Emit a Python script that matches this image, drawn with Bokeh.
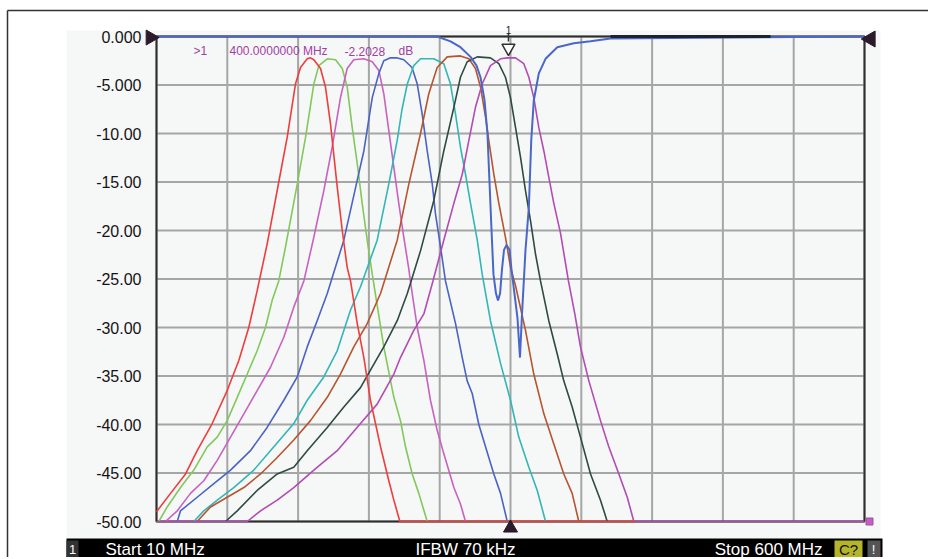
import math
from bokeh.plotting import figure
from bokeh.models import Range1d
from bokeh.core.properties import value
from bokeh.embed import file_html
from bokeh.resources import INLINE

# ---------------- data (frequency in MHz, level in dB) ----------------
X_START, X_STOP, N_XDIV = 10, 600, 10
Y_BOTTOM, Y_TOP = -50, 0
y_ticks = [-50, -45, -40, -35, -30, -25, -20, -15, -10, -5, 0]
y_tick_labels = ["-50.00", "-45.00", "-40.00", "-35.00", "-30.00", "-25.00",
                 "-20.00", "-15.00", "-10.00", "-5.000", "0.000"]

red_f = [10.0, 21.7, 34.2, 43.9, 56.4, 68.9, 78.6, 86.9, 93.9, 102.2, 111.9, 118.9, 125.8, 130.0, 135.6, 138.3,
         141.1, 146.7, 150.8, 155.0, 160.6, 164.8, 168.9, 171.7, 177.3, 182.8, 188.3, 196.7, 203.6, 207.8, 212.8, 409.2]
red_db = [-49.0, -47.1, -45.1, -42.7, -39.9, -36.5, -33.4, -30.0, -26.2, -21.4, -15.0, -10.4, -4.9, -3.2, -2.3, -2.2,
          -2.4, -3.3, -5.2, -9.0, -15.5, -20.0, -23.8, -25.2, -29.6, -33.1, -37.5, -42.3, -45.8, -47.8, -50.0, -50.0]

green_f = [11.9, 18.9, 30.0, 41.1, 52.3, 60.6, 68.9, 77.3, 85.6, 93.9, 100.8, 106.4, 111.9, 117.5, 127.3, 134.2,
           141.1, 145.3, 152.3, 159.2, 164.8, 168.9, 173.1, 177.3, 181.4, 185.6, 189.8, 191.7, 199.4, 207.8, 213.3,
           217.5, 223.1, 228.6, 235.6]
green_db = [-50.0, -48.5, -46.5, -44.7, -42.3, -41.3, -39.6, -37.2, -34.8, -32.4, -30.0, -27.2, -25.2, -21.7, -15.2,
            -10.4, -4.9, -3.0, -2.3, -2.4, -3.3, -5.2, -9.4, -13.1, -17.2, -21.0, -24.5, -26.0, -32.0, -37.2, -39.6,
            -42.3, -45.1, -47.1, -50.0]

mag_f = [17.5, 27.3, 38.3, 49.4, 60.6, 71.7, 82.8, 93.9, 105.0, 116.1, 124.4, 132.8, 141.1, 149.4, 156.4, 163.3,
         168.9, 174.4, 182.8, 189.8, 195.3, 199.4, 203.6, 207.8, 211.9, 216.1, 220.3, 222.5, 227.3, 232.8, 238.3,
         243.9, 249.4, 257.8, 263.3, 267.5]
mag_db = [-50.0, -48.9, -47.1, -45.8, -43.7, -41.3, -38.9, -36.5, -34.1, -31.0, -27.9, -25.2, -20.7, -15.9, -11.4,
          -6.3, -3.3, -2.4, -2.3, -2.6, -3.5, -5.9, -9.7, -13.5, -17.2, -20.7, -24.0, -26.0, -30.0, -33.4, -37.5,
          -40.6, -43.0, -46.5, -48.2, -50.0]

blue_f = [27.3, 30.0, 43.9, 57.8, 71.7, 88.3, 102.2, 116.1, 127.3, 135.6, 143.9, 152.3, 166.1, 177.3, 182.8, 189.8,
          195.3, 199.4, 205.0, 210.0, 216.1, 222.9, 227.3, 231.4, 235.6, 239.8, 242.5, 246.7, 250.8, 259.2, 264.8,
          268.9, 273.1, 278.6, 284.2, 291.1, 296.7, 302.3]
blue_db = [-50.0, -48.9, -47.5, -46.1, -44.7, -42.7, -40.3, -37.5, -35.1, -32.0, -29.3, -26.5, -21.0, -14.8, -11.8,
           -6.3, -3.8, -2.5, -2.2, -2.2, -2.4, -3.2, -4.9, -8.0, -11.8, -15.2, -18.3, -21.7, -25.2, -29.6, -33.1,
           -35.5, -36.8, -40.0, -42.3, -45.1, -47.1, -50.0]

cyan_f = [41.1, 49.4, 60.6, 74.4, 91.1, 107.8, 124.4, 135.6, 149.4, 160.6, 171.7, 180.0, 193.9, 203.6, 210.6, 214.6,
          219.0, 224.4, 230.0, 241.1, 249.4, 255.0, 259.2, 263.3, 267.5, 271.7, 277.3, 281.4, 288.3, 296.7, 305.0,
          311.9, 320.3, 327.3, 334.2]
cyan_db = [-50.0, -48.9, -47.8, -46.5, -44.7, -42.3, -39.9, -37.5, -35.1, -32.4, -28.2, -25.8, -21.0, -15.2, -10.7,
           -7.5, -4.9, -3.0, -2.3, -2.3, -2.8, -4.9, -8.0, -11.4, -14.2, -17.2, -21.0, -24.5, -29.3, -33.7, -37.5,
           -41.3, -44.4, -46.8, -50.0]

brown_f = [43.9, 55.0, 68.9, 82.8, 96.7, 110.6, 124.4, 138.3, 152.3, 163.3, 174.4, 185.6, 196.7, 210.6, 220.3, 230.0,
           236.9, 243.9, 252.3, 263.3, 270.3, 275.8, 280.0, 284.2, 286.9, 291.1, 295.3, 300.8, 305.0, 309.2, 317.5,
           324.4, 332.8, 341.1, 349.4, 356.4, 361.9]
brown_db = [-50.0, -48.5, -47.5, -46.5, -45.1, -43.4, -41.6, -39.6, -37.2, -34.8, -32.0, -29.6, -26.5, -21.0, -15.2,
            -10.0, -5.9, -3.2, -2.1, -2.0, -2.3, -3.3, -5.2, -8.3, -10.7, -14.2, -17.2, -20.7, -23.8, -25.7, -30.3,
            -34.8, -38.9, -42.0, -45.1, -47.1, -50.0]

dark_f = [67.5, 77.3, 93.9, 110.6, 124.4, 135.6, 152.3, 166.1, 180.0, 188.3, 199.4, 210.6, 219.0, 230.0, 241.1, 249.4,
          257.8, 263.3, 268.9, 277.3, 288.3, 295.3, 300.8, 305.0, 309.2, 313.3, 317.5, 321.7, 325.8, 330.0, 336.9,
          343.9, 349.4, 356.4, 363.3, 371.7, 380.0, 385.6]
dark_db = [-50.0, -48.9, -46.8, -45.1, -44.4, -42.7, -40.3, -38.2, -36.2, -34.4, -32.0, -29.3, -26.5, -22.1, -16.9,
           -11.8, -7.3, -4.2, -2.6, -2.1, -2.2, -2.8, -4.2, -6.3, -9.4, -12.4, -15.9, -19.0, -22.4, -25.2, -29.3,
           -32.7, -35.5, -38.2, -41.3, -45.1, -47.8, -50.0]

purple_f = [10.0, 85.6, 96.7, 110.6, 124.4, 141.1, 160.6, 180.0, 193.9, 207.8, 213.3, 224.4, 232.8, 240.4, 249.4,
            257.8, 264.8, 270.3, 275.8, 281.4, 288.3, 296.7, 302.5, 309.2, 316.1, 320.3, 324.4, 328.6, 332.8, 336.9,
            341.1, 346.7, 353.3, 358.6, 363.3, 370.3, 380.0, 386.9, 395.3, 402.3, 407.8, 600.0]
purple_db = [-50.0, -50.0, -48.9, -47.8, -46.5, -44.7, -42.7, -39.9, -37.9, -34.8, -33.1, -30.3, -28.6, -25.2, -21.0,
             -17.2, -14.2, -10.7, -7.3, -4.9, -3.0, -2.3, -2.2, -2.2, -2.8, -4.2, -6.3, -9.4, -11.8, -14.5, -17.2,
             -20.3, -25.2, -28.6, -32.0, -35.5, -39.6, -42.3, -45.1, -47.5, -50.0, -50.0]

notch_f = [10.0, 243.9, 255.0, 263.3, 271.7, 276.7, 280.0, 283.3, 285.8, 287.5, 289.2, 290.8, 292.9, 294.6, 296.3,
           297.9, 299.6, 301.7, 304.2, 305.8, 308.3, 310.8, 312.9, 314.6, 316.1, 317.5, 320.3, 322.3, 324.4, 328.6,
           334.2, 344.0, 357.8, 371.7, 388.3, 600.0]
notch_db = [0.0, 0.0, -0.5, -1.1, -2.1, -3.0, -4.2, -6.5, -10.0, -15.0, -20.0, -24.5, -26.5, -27.2, -26.5, -24.0,
            -22.0, -21.5, -22.0, -24.0, -26.5, -29.0, -33.1, -28.6, -25.2, -22.0, -17.6, -10.7, -6.6, -3.8, -2.3,
            -1.1, -0.7, -0.5, -0.2, 0.0]

thru_f = [388.3, 521.7]
thru_db = [0.0, 0.0]

marker_f = 303.3
marker_text = [">1", "400.0000000 MHz", "-2.2028", "dB"]
status_text = ["Start 10 MHz", "IFBW 70 kHz", "Stop 600 MHz"]

# ---------------- page pixel -> data helpers (for decorations only) ----------------
W, H = 928, 557
def fx(px):
    return X_START + (px - 156) * (X_STOP - X_START) / 708.0

def fy(py):
    return -(py - 36) * (Y_TOP - Y_BOTTOM) / 485.0

BG = "#f6f7f7"
FONT = "Liberation Sans"
FRAME = "#333333"

p = figure(width=W, height=H, x_range=Range1d(fx(0), fx(W)), y_range=Range1d(fy(H), fy(0)),
           x_axis_location=None, y_axis_location=None, output_backend="svg",
           toolbar_location=None, title=None, min_border=0)
p.grid.visible = False
p.outline_line_color = None
p.background_fill_color = "white"
p.border_fill_color = "white"

# instrument screen background and outer frame
p.quad(left=[fx(66)], right=[fx(880)], bottom=[fy(538)], top=[fy(30)], fill_color=BG, line_color=None)
p.segment(x0=[fx(7), fx(7)], y0=[fy(10), fy(10)], x1=[fx(932), fx(7)], y1=[fy(10), fy(559)],
          line_color=FRAME, line_width=1.5)

# graticule
x_grid = [X_START + k * (X_STOP - X_START) / N_XDIV for k in range(N_XDIV + 1)]
p.segment(x0=x_grid, y0=[Y_BOTTOM] * len(x_grid), x1=x_grid, y1=[Y_TOP] * len(x_grid),
          line_color="#a6a6a6", line_width=2)
p.segment(x0=[X_START] * len(y_ticks), y0=y_ticks, x1=[X_STOP] * len(y_ticks), y1=y_ticks,
          line_color="#a6a6a6", line_width=2)
p.quad(left=[X_START], right=[X_STOP], bottom=[Y_BOTTOM], top=[Y_TOP], fill_color=None,
       line_color="#2e2e2e", line_width=2)
p.text(x=[fx(141)] * len(y_ticks), y=y_ticks, text=y_tick_labels, text_align="right",
       text_baseline="middle", text_font=value(FONT), text_font_size=value("16px"), text_color="#141414")

# traces
traces = [
    (green_f, green_db, "#82c85c"),
    (mag_f, mag_db, "#c862c2"),
    (blue_f, blue_db, "#4a63c4"),
    (cyan_f, cyan_db, "#33b6b6"),
    (brown_f, brown_db, "#b8542e"),
    (dark_f, dark_db, "#2f4a44"),
    (purple_f, purple_db, "#b24cb4"),
    (red_f, red_db, "#f03c3c"),
]
for f, db, c in traces:
    p.line(f, db, line_color=c, line_width=1.6)
p.line(notch_f, notch_db, line_color="#4a66c8", line_width=2)
p.line(thru_f, thru_db, line_color="#1c2230", line_width=3)

# reference arrows and markers
TRI = "#2a1a2a"
p.scatter([fx(150)], [fy(37)], marker="triangle", size=15, angle=-math.pi / 2,
          fill_color=TRI, line_color=TRI)
p.scatter([fx(870)], [fy(38.5)], marker="triangle", size=16, angle=math.pi / 2,
          fill_color=TRI, line_color=TRI)
p.scatter([fx(510)], [fy(527.5)], marker="triangle", size=14, fill_color=TRI, line_color=TRI)
p.scatter([fx(869)], [fy(521)], marker="square", size=7, fill_color="#c060c0", line_color="#a050a0")

p.segment([marker_f], [fy(33)], [marker_f], [fy(41)], line_color="#333333", line_width=1.5)
p.scatter([marker_f], [fy(47.5)], marker="inverted_triangle", size=13,
          fill_color="white", line_color="#333333", line_width=1.5)
p.text(x=[marker_f], y=[fy(29.5)], text=["1"], text_align="center", text_baseline="middle",
       text_font=value(FONT), text_font_size=value("10px"), text_color="#222222")

p.text(x=[fx(193), fx(229), fx(344), fx(398)], y=[fy(50.5)] * 4, text=marker_text,
       text_align="left", text_baseline="middle", text_font=value(FONT),
       text_font_size=value("12px"), text_color="#a23ea3")

# status bar
p.quad(left=[fx(66), fx(66), fx(834), fx(867)], right=[fx(882), fx(78), fx(862), fx(880)],
       bottom=[fy(H)] * 4, top=[fy(538), fy(540), fy(540), fy(540)],
       fill_color=["black", "#333333", "#b5b52c", "#555555"], line_color=None)
p.text(x=[fx(105), fx(415)], y=[fy(548.5)] * 2, text=status_text[:2], text_align="left",
       text_baseline="middle", text_font=value(FONT), text_font_size=value("17px"), text_color="white")
p.text(x=[fx(822)], y=[fy(548.5)], text=status_text[2:], text_align="right",
       text_baseline="middle", text_font=value(FONT), text_font_size=value("17px"), text_color="white")
p.text(x=[fx(72), fx(873)], y=[fy(549)] * 2, text=["1", "!"], text_align="center",
       text_baseline="middle", text_font=value(FONT), text_font_size=value("13px"), text_color="white")
p.text(x=[fx(848)], y=[fy(549)], text=["C?"], text_align="center",
       text_baseline="middle", text_font=value(FONT), text_font_size=value("15px"), text_color="#111111")

open("out.html", "w").write(file_html(p, INLINE))
